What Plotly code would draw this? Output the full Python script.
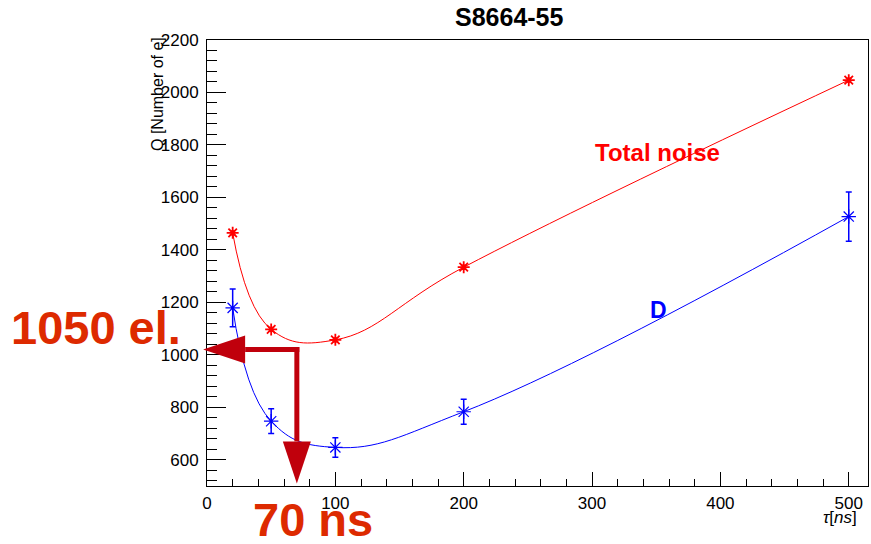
import plotly.graph_objects as go

# ---------------- data ----------------
tau = [20, 50, 100, 200, 500]
total_noise = [1465, 1097, 1057, 1334, 2047]
total_noise_err = [8, 8, 8, 8, 8]
d_noise = [1179, 747, 647, 783, 1527]
d_err = [72, 47, 37, 48, 94]

x_range = [0, 515]
y_range = [500, 2200]
opt_tau = 70        # ns
opt_q = 1020        # electrons (arrow level)
arrow_tip_x = -3
arrow_tip_y = 510

# ---------------- geometry ----------------
W, H = 871, 544
ML, MR, MT, MB = 207, 3, 40, 58
PW, PH = W - ML - MR, H - MT - MB

def px(x):
    return (x - x_range[0]) / (x_range[1] - x_range[0])

def py(y):
    return (y - y_range[0]) / (y_range[1] - y_range[0])

FONT = "Liberation Sans, Arial, Helvetica, sans-serif"
RED = "#ff0000"
BLUE = "#0000ff"
ARROW = "#c0000c"
TXT = "#dd2a00"

fig = go.Figure()
fig.add_trace(go.Scatter(
    x=tau, y=total_noise, mode="lines+markers",
    line=dict(color=RED, width=1, shape="spline", smoothing=1.2),
    marker=dict(symbol="asterisk-open", size=10, color=RED, line=dict(color=RED, width=1.8)),
    error_y=dict(type="data", array=total_noise_err, color=RED, thickness=1.2, width=3),
    showlegend=False, cliponaxis=False))
fig.add_trace(go.Scatter(
    x=tau, y=d_noise, mode="lines+markers",
    line=dict(color=BLUE, width=1, shape="spline", smoothing=1.2),
    marker=dict(symbol="asterisk-open", size=12, color=BLUE, line=dict(color=BLUE, width=1.2)),
    error_y=dict(type="data", array=d_err, color=BLUE, thickness=1.5, width=3),
    showlegend=False, cliponaxis=False))

# ---------------- arrows (paper coords, not clipped) ----------------
head_len, head_half, lw = 42, 14, 5
cx, cy = px(opt_tau), py(opt_q)
tipx, tipy = px(arrow_tip_x), py(arrow_tip_y)
shapes = [
    dict(type="line", xref="paper", yref="paper",
         x0=cx + 2.5 / PW, x1=tipx + head_len / PW, y0=cy, y1=cy,
         line=dict(color=ARROW, width=lw)),
    dict(type="path", xref="paper", yref="paper",
         path=f"M{tipx},{cy} L{tipx + head_len / PW},{cy + head_half / PH} "
              f"L{tipx + head_len / PW},{cy - head_half / PH} Z",
         fillcolor=ARROW, line=dict(color=ARROW, width=0)),
    dict(type="line", xref="paper", yref="paper",
         x0=cx, x1=cx, y0=cy + 2.5 / PH, y1=tipy + head_len / PH,
         line=dict(color=ARROW, width=lw)),
    dict(type="path", xref="paper", yref="paper",
         path=f"M{cx},{tipy} L{cx - head_half / PW},{tipy + head_len / PH} "
              f"L{cx + head_half / PW},{tipy + head_len / PH} Z",
         fillcolor=ARROW, line=dict(color=ARROW, width=0)),
]

annotations = [
    dict(text="<b>S8664-55</b>", xref="paper", yref="paper",
         x=(509 - ML) / PW, y=1 + (MT - 17) / PH, showarrow=False,
         xanchor="center", yanchor="middle", font=dict(size=25, color="black", family=FONT)),
    dict(text="<b>Total noise</b>", xref="x", yref="y", x=351, y=1770, showarrow=False,
         xanchor="center", yanchor="middle", font=dict(size=24, color=RED, family=FONT)),
    dict(text="<b>D</b>", xref="x", yref="y", x=352, y=1169, showarrow=False,
         xanchor="center", yanchor="middle", font=dict(size=23, color=BLUE, family=FONT)),
    dict(text="<b>1050 el.</b>", xref="paper", yref="paper",
         x=(96 - ML) / PW, y=1 - (327 - MT) / PH, showarrow=False,
         xanchor="center", yanchor="middle", font=dict(size=47, color=TXT, family=FONT)),
    dict(text="<b>70 ns</b>", xref="paper", yref="paper",
         x=(313 - ML) / PW, y=1 - (519 - MT) / PH, showarrow=False,
         xanchor="center", yanchor="middle", font=dict(size=47, color=TXT, family=FONT)),
    dict(text="Q [Number of e]", xref="paper", yref="paper",
         x=(157 - ML) / PW, y=1 - (94 - MT) / PH, showarrow=False, textangle=-90,
         xanchor="center", yanchor="middle", font=dict(size=16, color="black", family=FONT)),
    dict(text="<i>τ</i>[<i>ns</i>]", xref="paper", yref="paper",
         x=(859 - ML) / PW, y=1 - (517 - MT) / PH, showarrow=False,
         xanchor="right", yanchor="middle", font=dict(size=17, color="black", family=FONT)),
]

fig.update_layout(
    width=W, height=H,
    margin=dict(l=ML, r=MR, t=MT, b=MB, pad=0, autoexpand=False),
    paper_bgcolor="white", plot_bgcolor="white",
    font=dict(family=FONT, size=17, color="black"),
    shapes=shapes, annotations=annotations, showlegend=False,
)
fig.update_xaxes(
    range=x_range, showgrid=False, zeroline=False, automargin=False,
    showline=True, linecolor="black", linewidth=1, mirror=True,
    ticks="inside", ticklen=14, tickcolor="black", tickwidth=1,
    dtick=100, tick0=0, ticklabelstandoff=2,
    minor=dict(ticks="inside", ticklen=7, dtick=20, tickcolor="black", tickwidth=1, showgrid=False),
    tickfont=dict(size=17, family=FONT, color="black"),
)
fig.update_yaxes(
    range=y_range, showgrid=False, zeroline=False, automargin=False,
    showline=True, linecolor="black", linewidth=1, mirror=True,
    ticks="inside", ticklen=19, tickcolor="black", tickwidth=1,
    dtick=200, tick0=0, ticklabelstandoff=4,
    minor=dict(ticks="inside", ticklen=10, dtick=40, tickcolor="black", tickwidth=1, showgrid=False),
    tickfont=dict(size=17, family=FONT, color="black"),
)

fig.write_html(
    "out.html",
    config={"displayModeBar": False},
    post_script="document.body.style.margin='0';document.body.style.overflow='hidden';",
)
